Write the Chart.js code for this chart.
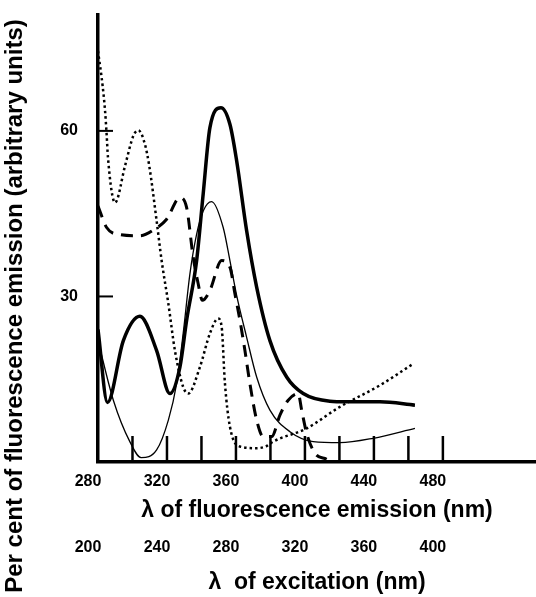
<!DOCTYPE html>
<html>
<head>
<meta charset="utf-8">
<script src="https://cdn.jsdelivr.net/npm/chart.js@4.4.1/dist/chart.umd.min.js"></script>
<style>
  html, body { margin: 0; padding: 0; background: #fff; }
</style>
</head>
<body>
<canvas id="myChart" width="536" height="597"></canvas>
<script>
// wavelengths (nm, emission scale) and values (% of fluorescence)
const thickX = [280, 285.5, 294.7, 304.3, 314, 321.7, 327.5, 331.4, 337.2, 341, 344.9, 351.3, 356.5, 360.4, 366.2, 372, 379.7, 389.4, 399, 414.5, 424.2, 443.5, 463.8];
const thickY = [24, 10.8, 22, 26.4, 20.2, 12.4, 17.2, 25.7, 36.5, 48.6, 60.6, 64.2, 61.2, 54.6, 41.9, 31.7, 22, 15.4, 12.4, 11, 10.9, 10.9, 10.3];

const thinX = [280, 288.9, 298.6, 305, 314, 320.8, 325.6, 329.4, 333.3, 337.2, 341, 345.9, 352.6, 356.5, 360.4, 366.2, 372, 379.7, 391.3, 404.8, 420.3, 439.6, 463.8];
const thinY = [22, 11.2, 3.6, 0.8, 2.2, 7.6, 14.2, 23.3, 34.1, 41.3, 45.5, 47.2, 42.5, 36.5, 30.2, 22.6, 15.4, 9.4, 5.5, 3.7, 3.5, 4.3, 6.1];

const dotX = [280, 282.7, 284.1, 285, 285.8, 289.9, 295.7, 300.5, 303.4, 307.2, 309.7, 314, 316.9, 320.8, 324.6, 329.4, 332.3, 339.1, 344.9, 349.7, 351.7, 353.6, 356.5, 362.3, 372, 377.8, 381.6, 401, 420.3, 443.5, 462.8];
const dotY = [74.5, 68.1, 63.6, 59.4, 55.1, 47, 53.7, 59.1, 60.1, 57.6, 53.7, 43.7, 36.5, 28.7, 20.2, 13.6, 12.4, 17.2, 23.3, 26, 24.5, 14.3, 6.4, 2.8, 2.5, 2.9, 3.7, 6.1, 10, 13.9, 17.8];

const dashX = [280, 285, 292.8, 304.3, 313, 319.8, 327.5, 331.4, 335.2, 338.1, 340.5, 344.9, 351.7, 356.5, 359.4, 362.3, 365.2, 368.1, 372, 375.8, 380.7, 385.5, 390.3, 396.1, 398.1, 401, 405.8, 412.6];
const dashY = [46.4, 42.5, 41.2, 41, 42.2, 44, 47.9, 46.1, 37.1, 32.3, 29.3, 31.1, 36.5, 35.3, 30.5, 25.7, 20.2, 14.2, 7.6, 4.6, 4.6, 8.5, 11.2, 12.4, 9.4, 5.2, 1.6, 0.5];

const emissionLabels = [280, 320, 360, 400, 440, 480];
const emissionMarks = [300, 320, 340, 360, 380, 400, 420, 440, 460, 480];
const excitationLabels = [200, 240, 280, 320, 360, 400];
const yTicks = [30, 60];

const pts = (xs, ys) => xs.map((x, i) => ({ x: x, y: ys[i] }));

Chart.defaults.font.family = "'Liberation Sans', Arial, sans-serif";
Chart.defaults.color = '#000';

// tick marks in the original point inwards, drawn on top of the plot
const innerTicks = {
  id: 'innerTicks',
  afterDatasetsDraw(chart) {
    const { ctx, scales: { x, y } } = chart;
    ctx.save();
    ctx.strokeStyle = '#000';
    ctx.lineWidth = 2.5;
    emissionMarks.forEach(v => {
      const px = x.getPixelForValue(v);
      ctx.beginPath();
      ctx.moveTo(px, y.bottom);
      ctx.lineTo(px, y.bottom - 26);
      ctx.stroke();
    });
    ctx.lineWidth = 2;
    yTicks.forEach(v => {
      const py = y.getPixelForValue(v);
      ctx.beginPath();
      ctx.moveTo(x.left, py);
      ctx.lineTo(x.left + 15, py);
      ctx.stroke();
    });
    ctx.restore();
  }
};

// no extra padding from the scales, the layout is fixed by hand
const noPad = s => { s.paddingTop = 0; s.paddingBottom = 0; s.paddingLeft = 0; s.paddingRight = 0; };

const tickFont = { size: 16, weight: 'bold' };
const titleFont = { size: 23, weight: 'bold' };

new Chart(document.getElementById('myChart'), {
  type: 'line',
  data: {
    datasets: [
      { data: pts(thickX, thickY), borderColor: '#000', borderWidth: 3.5 },
      { data: pts(thinX, thinY), borderColor: '#000', borderWidth: 1.3 },
      { data: pts(dotX, dotY), borderColor: '#000', borderWidth: 2.5, borderDash: [2.5, 3] },
      { data: pts(dashX, dashY), borderColor: '#000', borderWidth: 3, borderDash: [12, 8] }
    ]
  },
  options: {
    responsive: false,
    animation: false,
    layout: { padding: { top: 15, right: 0, bottom: 0, left: 0 } },
    elements: {
      point: { radius: 0 },
      line: { cubicInterpolationMode: 'monotone', fill: false }
    },
    plugins: {
      legend: { display: false },
      tooltip: { enabled: false },
      title: {
        display: true,
        position: 'left',
        text: 'Per cent of fluorescence emission (arbitrary units)',
        font: { size: 24, weight: 'bold' },
        color: '#000',
        padding: { top: 1, bottom: 4 }
      }
    },
    scales: {
      x: {
        type: 'linear',
        position: 'bottom',
        min: 280,
        max: 534,
        weight: 0,
        border: { display: true, color: '#000', width: 3.5 },
        grid: { display: false, drawTicks: false, tickLength: 0 },
        ticks: {
          stepSize: 20,
          includeBounds: false,
          autoSkip: false,
          maxRotation: 0,
          padding: 10,
          labelOffset: -10,
          font: tickFont,
          callback: v => emissionLabels.includes(v) ? v : ''
        },
        title: { display: true, text: 'λ of fluorescence emission (nm)', font: titleFont, padding: { top: 4, bottom: 4 } },
        afterFit: s => { noPad(s); s.height = 66; }
      },
      x2: {
        type: 'linear',
        position: 'bottom',
        min: 200,
        max: 454,
        weight: 1,
        border: { display: false },
        grid: { display: false, drawTicks: false, tickLength: 0 },
        ticks: {
          stepSize: 40,
          includeBounds: false,
          autoSkip: false,
          maxRotation: 0,
          padding: 10,
          labelOffset: -10,
          font: tickFont,
          callback: v => excitationLabels.includes(v) ? v : ''
        },
        title: { display: true, text: 'λ  of excitation (nm)', font: titleFont, padding: { top: 1, bottom: 1 } },
        afterFit: s => { noPad(s); s.height = 69; }
      },
      y: {
        min: 0,
        max: 81,
        border: { display: true, color: '#000', width: 3.5 },
        grid: { display: false, drawTicks: false, tickLength: 0 },
        ticks: { padding: 20, font: tickFont },
        afterBuildTicks: s => { s.ticks = yTicks.map(v => ({ value: v })); },
        afterFit: s => { noPad(s); s.width = 98 - 33.8; }
      }
    }
  },
  plugins: [innerTicks]
});
</script>
</body>
</html>
